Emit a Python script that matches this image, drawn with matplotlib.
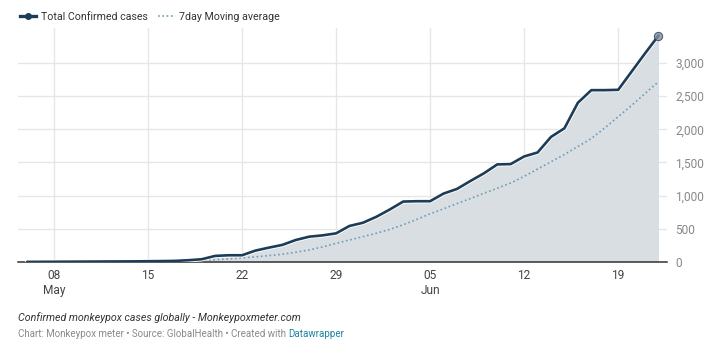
import numpy as np
import pandas as pd
import matplotlib
matplotlib.use("Agg")
import matplotlib.pyplot as plt
from matplotlib.lines import Line2D

plt.rcParams['font.family'] = ['Roboto', 'DejaVu Sans']

# daily data, 6 May to 22 Jun
dates = pd.date_range('2022-05-06', '2022-06-22', freq='D')
total = [0, 1, 2, 3, 4, 5, 6, 7, 8, 10, 12, 15, 25, 40, 90, 100, 100,
         170, 215, 256, 330, 380, 400, 430, 542, 590,
         680, 790, 910, 915, 915, 1030, 1100, 1220, 1335, 1470, 1475,
         1590, 1650, 1885, 2015, 2400, 2590, 2590, 2595, 2870, 3145, 3413]
moving_avg = [0, 0, 1, 1, 2, 2, 3, 3, 4, 5, 7, 10, 15, 22, 32, 45, 60,
              75, 95, 115, 145, 180, 225, 280, 330, 380,
              432, 490, 560, 640, 725, 800, 880, 955, 1035, 1110, 1190,
              1290, 1400, 1510, 1620, 1740, 1860, 2020, 2190, 2360, 2540, 2717]
tick_dates = ['2022-05-08', '2022-05-15', '2022-05-22', '2022-05-29',
              '2022-06-05', '2022-06-12', '2022-06-19']
tick_labels = ['08\nMay', '15', '22', '29', '05\nJun', '12', '19']
y_ticks = [0, 500, 1000, 1500, 2000, 2500, 3000]

navy = '#1c3c57'
dot_col = '#6c9db8'
fill_col = '#d9dee3'
grid_col = '#e6e6e6'

fig = plt.figure(figsize=(7.15, 3.52), dpi=100)
ax = fig.add_axes([0.025, 0.256, 0.908, 0.664])

ax.fill_between(dates, total, 0, color=fill_col, lw=0, zorder=1)
ax.plot(dates, moving_avg, color=dot_col, lw=1.2, ls=(0, (1, 1.6)), zorder=3)
ax.plot(dates, total, color='white', lw=3.2, solid_joinstyle='round',
        solid_capstyle='round', zorder=3.5)
ax.plot(dates, total, color=navy, lw=1.9, solid_joinstyle='round',
        solid_capstyle='round', zorder=4)
ax.scatter(dates[-1:], total[-1:], s=36, color='#7f8d9c', alpha=0.8,
           edgecolor=navy, lw=0.7, zorder=5)

ax.set_xlim(pd.Timestamp('2022-05-08') - pd.Timedelta(days=2.68),
             pd.Timestamp('2022-05-08') + pd.Timedelta(days=45.64))
ax.set_ylim(0, 3525)
ax.set_xticks(pd.to_datetime(tick_dates))
ax.set_xticklabels(tick_labels, fontsize=8.6, color='#444444', linespacing=1.25)
ax.set_yticks(y_ticks)
ax.set_yticklabels([f'{v:,}' for v in y_ticks], fontsize=8.6, color='#888888',
                   ha='left')
ax.yaxis.tick_right()
ax.tick_params(axis='both', length=0)
ax.tick_params(axis='y', pad=6)
ax.tick_params(axis='x', pad=5)
ax.grid(True, color=grid_col, lw=1, zorder=0)
ax.set_axisbelow(True)
for s in ['top', 'right', 'left']:
    ax.spines[s].set_visible(False)
ax.spines['bottom'].set_color('#333333')
ax.spines['bottom'].set_linewidth(1.1)

handles = [Line2D([], [], color=navy, lw=2.4, marker='o', markersize=4,
                  markevery=[1]),
           Line2D([], [], color=dot_col, lw=1.2, ls=(0, (1, 1.6)))]
fig.legend(handles, ['Total Confirmed cases', '7day Moving average'],
           loc='center left', bbox_to_anchor=(0.015, 0.953), ncol=2,
           frameon=False, fontsize=7.7, handlelength=1.5, handletextpad=0.4,
           columnspacing=1.0, labelcolor='#333333')

fig.text(0.025, 0.098, 'Confirmed monkeypox cases globally - Monkeypoxmeter.com',
         fontsize=7.7, style='italic', color='#333333', va='center')
t = fig.text(0.025, 0.05, 'Chart: Monkeypox meter \u2022 Source: GlobalHealth \u2022 Created with ',
             fontsize=7.0, color='#8a8a8a', va='center')
fig.canvas.draw()
bb = t.get_window_extent().transformed(fig.transFigure.inverted())
fig.text(bb.x1, 0.05, 'Datawrapper', fontsize=7.0, color='#1d81a2', va='center')

fig.savefig('out.png', dpi=100, facecolor='white')
